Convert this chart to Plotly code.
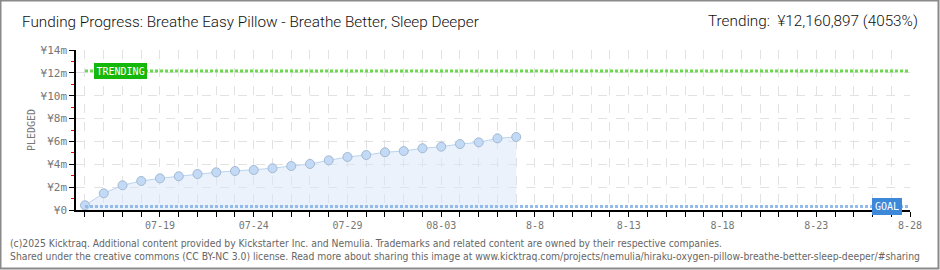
import plotly.graph_objects as go
import pandas as pd

# ---- data ----
dates = pd.date_range("2025-07-15", "2025-08-07", freq="D").strftime("%Y-%m-%d").tolist()
pledged = [410000, 1460000, 2160000, 2540000, 2770000, 2950000, 3150000, 3300000,
           3410000, 3500000, 3650000, 3850000, 4030000, 4350000, 4640000, 4810000,
           5050000, 5160000, 5400000, 5540000, 5770000, 5920000, 6270000, 6390000]
goal = 300000
trending = 12160897
tick_vals = ["2025-07-19", "2025-07-24", "2025-07-29", "2025-08-03", "2025-08-08",
             "2025-08-13", "2025-08-18", "2025-08-23", "2025-08-28"]
tick_text = ["07-19", "07-24", "07-29", "08-03", "8-8", "8-13", "8-18", "8-23", "8-28"]
y_vals = [0, 2e6, 4e6, 6e6, 8e6, 10e6, 12e6, 14e6]
y_text = ["¥0", "¥2m", "¥4m", "¥6m", "¥8m", "¥10m", "¥12m", "¥14m"]
x_start = "2025-07-14 12:30"
x_end = "2025-08-28"

W, H = 940, 270
L, R, T, B = 76, 30, 50, 60
PW, PH = W - L - R, H - T - B

def px(x):
    return (x - L) / PW

def py(y):
    return (T + PH - y) / PH

fig = go.Figure()

fig.add_trace(go.Scatter(
    x=dates, y=pledged, mode="lines+markers", fill="tozeroy",
    fillcolor="rgba(215,230,248,0.5)",
    line=dict(color="#b9d4f1", width=1),
    marker=dict(size=9, color="#c3daf6", line=dict(color="#a3b9d2", width=1)),
    hoverinfo="skip", showlegend=False))

fig.add_trace(go.Scatter(
    x=[dates[0], x_end], y=[goal, goal], mode="lines",
    line=dict(color="#92bbea", width=3, dash="3px,2px"),
    hoverinfo="skip", showlegend=False))

fig.add_trace(go.Scatter(
    x=[dates[0], x_end], y=[trending, trending], mode="lines",
    line=dict(color="#6ad94e", width=3, dash="3px,2px"),
    hoverinfo="skip", showlegend=False))

title_font = dict(family="Roboto", size=15.3, color="#111", weight=300)
annotations = [
    dict(x=px(20), y=py(22), xref="paper", yref="paper", xanchor="left", yanchor="middle",
         text="Funding Progress: Breathe Easy Pillow - Breathe Better, Sleep Deeper",
         showarrow=False, font=title_font),
    dict(x=px(920), y=py(21), xref="paper", yref="paper", xanchor="right", yanchor="middle",
         text="Trending:  ¥12,160,897 (4053%)",
         showarrow=False, font=title_font),
    dict(x=px(31), y=py(130), xref="paper", yref="paper", xanchor="center", yanchor="middle",
         text="PLEDGED", textangle=-90, showarrow=False,
         font=dict(family="DejaVu Sans Mono", size=10, color="#777")),
    dict(x=px(8), y=py(243), xref="paper", yref="paper", xanchor="left", yanchor="middle",
         text="(c)2025 Kicktraq. Additional content provided by Kickstarter Inc. and Nemulia. Trademarks and related content are owned by their respective companies.",
         showarrow=False, font=dict(family="DejaVu Sans Condensed", size=10.3, color="#666")),
    dict(x=px(8), y=py(256), xref="paper", yref="paper", xanchor="left", yanchor="middle",
         text="Shared under the creative commons (CC BY-NC 3.0) license. Read more about sharing this image at www.kicktraq.com/projects/nemulia/hiraku-oxygen-pillow-breathe-better-sleep-deeper/#sharing",
         showarrow=False, font=dict(family="DejaVu Sans Condensed", size=10.3, color="#666")),
    dict(x=px(120), y=trending, xref="paper", yref="y", xanchor="center", yanchor="middle",
         text="TRENDING", showarrow=False, bgcolor="#14b80a", bordercolor="#14b80a", borderpad=1.5,
         font=dict(family="DejaVu Sans Mono", size=10, color="white")),
    dict(x=px(887), y=goal, xref="paper", yref="y", xanchor="center", yanchor="middle",
         text="GOAL", showarrow=False, bgcolor="#3d88d9", bordercolor="#3d88d9", borderpad=2,
         font=dict(family="DejaVu Sans Mono", size=10, color="white")),
]

shapes = [
    dict(type="rect", xref="paper", yref="paper",
         x0=px(0.5), x1=px(W - 1.5), y0=py(0.5), y1=py(H - 1.5),
         line=dict(color="#8a8a8a", width=2), fillcolor="rgba(0,0,0,0)", layer="above"),
]

fig.update_layout(
    width=W, height=H,
    margin=dict(l=L, r=R, t=T, b=B, autoexpand=False),
    paper_bgcolor="white", plot_bgcolor="white",
    annotations=annotations, shapes=shapes,
    xaxis=dict(
        type="date", range=[x_start, x_end], automargin=False,
        tickvals=tick_vals, ticktext=tick_text,
        ticks="outside", ticklen=5, tickcolor="black",
        showline=True, linecolor="black", linewidth=1.5,
        showgrid=True, gridcolor="#e2e2e2", griddash="dash",
        tickfont=dict(family="DejaVu Sans Mono", size=10, color="#777"),
        minor=dict(dtick=86400000, tick0="2025-07-15", ticks="outside", ticklen=5,
                   tickcolor="black", showgrid=True, gridcolor="#e2e2e2", griddash="dash"),
        zeroline=False, fixedrange=True,
    ),
    yaxis=dict(
        range=[0, 14e6], tickvals=y_vals, ticktext=y_text, automargin=False,
        ticks="outside", ticklen=5, tickcolor="black",
        showline=True, linecolor="black", linewidth=1.5,
        showgrid=True, gridcolor="#e2e2e2", griddash="dash",
        tickfont=dict(family="DejaVu Sans Mono", size=11, color="#777"),
        minor=dict(dtick=1e6, ticks="outside", ticklen=3, tickcolor="red", showgrid=False),
        zeroline=False, fixedrange=True,
    ),
)

fig.write_html("out.html", config={"displayModeBar": False},
               post_script="document.body.style.margin='0';")
